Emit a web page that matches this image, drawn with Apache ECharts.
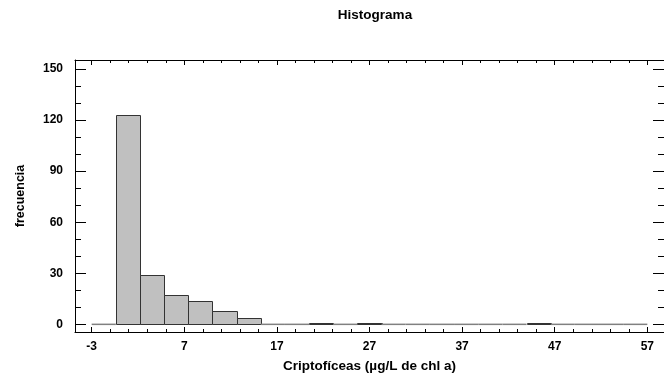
<!DOCTYPE html>
<html>
<head>
<meta charset="utf-8">
<script src="https://cdn.jsdelivr.net/npm/echarts@6/dist/echarts.min.js"></script>
<style>html,body{margin:0;padding:0;background:#fff}#c{width:664px;height:379px}</style>
</head>
<body>
<div id="c"></div>
<script>
// Histogram class limits (lower limit -3, upper limit 57, 23 classes)
var binEdges = [-3, -0.39, 2.22, 4.83, 7.43, 10.04, 12.65, 15.26, 17.87, 20.48, 23.09, 25.70, 28.30,
  30.91, 33.52, 36.13, 38.74, 41.35, 43.96, 46.57, 49.17, 51.78, 54.39, 57];
var frequencies = [0, 123, 29, 17, 14, 8, 4, 0, 0, 1, 0, 1, 0, 0, 0, 0, 0, 0, 1, 0, 0, 0, 0];
var xMajorTicks = [-3, 7, 17, 27, 37, 47, 57];
var xMinorTicks = [-1, 1, 3, 5, 9, 11, 13, 15, 19, 21, 23, 25, 29, 31, 33, 35, 39, 41, 43, 45, 49, 51, 53, 55];
var yMajorTicks = [0, 30, 60, 90, 120, 150];
var yMinorTicks = [10, 20, 40, 50, 70, 80, 100, 110, 130, 140];
var titleText = 'Histograma';
var xName = 'Criptofíceas (µg/L de chl a)';
var yName = 'frecuencia';

var data = [];
for (var i = 0; i < frequencies.length; i++) {
  data.push([binEdges[i], binEdges[i + 1], frequencies[i]]);
}

var FONT = 'Liberation Sans';
var X_MIN = -4.8, X_MAX = 58.8, Y_MIN = -4.5, Y_MAX = 155.3;

function xAxisDef(pos, ticks, len, main) {
  return {
    type: 'value', position: pos, min: X_MIN, max: X_MAX,
    axisLine: { show: main, onZero: false, lineStyle: { color: '#000', width: 1 } },
    axisTick: { show: true, inside: true, length: len, customValues: ticks, lineStyle: { color: '#000' } },
    axisLabel: (main && pos === 'bottom') ? { show: true, customValues: xMajorTicks, margin: 9,
      color: '#000', fontFamily: FONT, fontWeight: 'bold', fontSize: 12 } : { show: false },
    splitLine: { show: false },
    name: (main && pos === 'bottom') ? xName : '',
    nameLocation: 'middle', nameGap: 27,
    nameTextStyle: { color: '#000', fontFamily: FONT, fontWeight: 'bold', fontSize: 13.5 }
  };
}
function yAxisDef(pos, ticks, len, main) {
  return {
    type: 'value', position: pos, min: Y_MIN, max: Y_MAX,
    axisLine: { show: main, onZero: false, lineStyle: { color: '#000', width: 1 } },
    axisTick: { show: true, inside: true, length: len, customValues: ticks, lineStyle: { color: '#000' } },
    axisLabel: (main && pos === 'left') ? { show: true, customValues: yMajorTicks, margin: 12,
      color: '#000', fontFamily: FONT, fontWeight: 'bold', fontSize: 12 } : { show: false },
    splitLine: { show: false },
    name: (main && pos === 'left') ? yName : '',
    nameLocation: 'middle', nameGap: 48,
    nameTextStyle: { color: '#000', fontFamily: FONT, fontWeight: 'bold', fontSize: 12.5 }
  };
}

var chart = echarts.init(document.getElementById('c'), null, { renderer: 'canvas' });
chart.setOption({
  animation: false,
  backgroundColor: '#fff',
  title: {
    text: titleText, left: 370, top: 3, textAlign: 'center',
    textStyle: { color: '#000', fontFamily: FONT, fontWeight: 'bold', fontSize: 13.5 }
  },
  grid: { left: 75, top: 60, width: 591, height: 272, containLabel: false },
  xAxis: [
    xAxisDef('bottom', xMajorTicks, 5, true),
    xAxisDef('bottom', xMinorTicks, 3, false),
    xAxisDef('top', xMajorTicks, 5, true),
    xAxisDef('top', xMinorTicks, 3, false)
  ],
  yAxis: [
    yAxisDef('left', yMajorTicks, 11, true),
    yAxisDef('left', yMinorTicks, 6, false),
    yAxisDef('right', yMajorTicks, 11, true),
    yAxisDef('right', yMinorTicks, 6, false)
  ],
  series: [{
    type: 'custom',
    xAxisIndex: 0, yAxisIndex: 0,
    data: data,
    encode: { x: [0, 1], y: 2 },
    renderItem: function (params, api) {
      var x0 = api.value(0), x1 = api.value(1), n = api.value(2);
      var p0 = api.coord([x0, 0]);
      var p1 = api.coord([x1, n]);
      if (n === 0) {
        return { type: 'line', shape: { x1: p0[0], y1: p0[1], x2: p1[0], y2: p0[1] },
          style: { stroke: '#808080', lineWidth: 1.5 } };
      }
      return { type: 'rect',
        shape: { x: Math.round(p0[0]) + 0.5, y: Math.round(p1[1]) + 0.5,
          width: Math.round(p1[0]) - Math.round(p0[0]), height: Math.round(p0[1]) - Math.round(p1[1]) },
        style: { fill: '#c0c0c0', stroke: '#333333', lineWidth: 1 } };
    }
  }]
});
</script>
</body>
</html>
